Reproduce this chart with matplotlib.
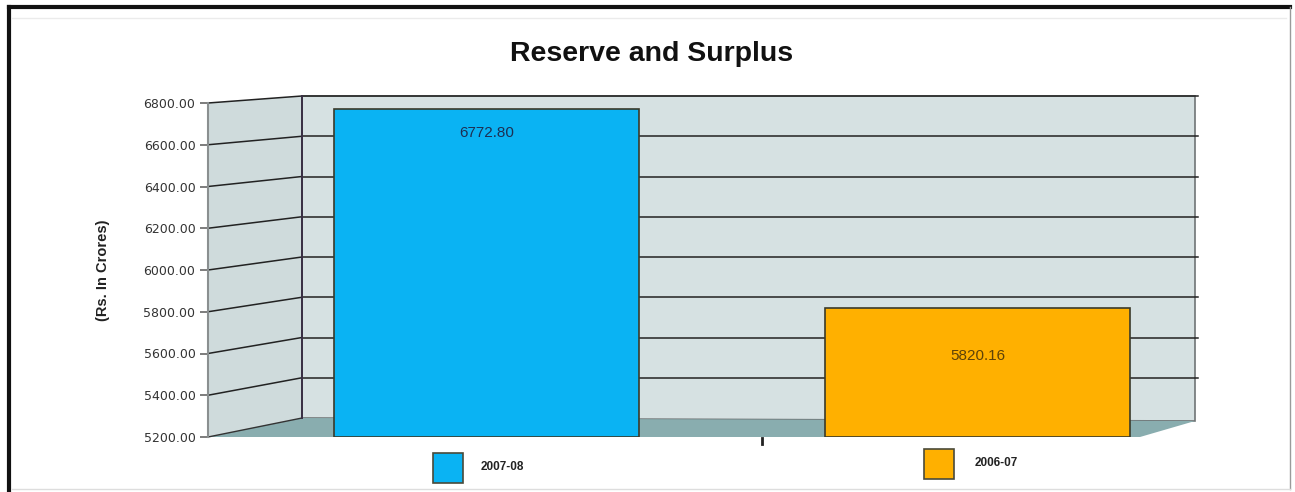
import matplotlib
matplotlib.use("Agg")
import matplotlib.pyplot as plt
from matplotlib.patches import Polygon, Rectangle
from matplotlib.lines import Line2D

# ---- data ----
categories = ["2007-08", "2006-07"]
values = [6772.80, 5820.16]
value_labels = ["6772.80", "5820.16"]
yticks = [5200, 5400, 5600, 5800, 6000, 6200, 6400, 6600, 6800]
bar_colors = ["#0ab3f3", "#ffb000"]
label_colors = ["#1d2f52", "#5e4208"]
label_offsets_pt = [-17.5, -35]

W, H = 1295, 492
fig = plt.figure(figsize=(W / 100, H / 100), dpi=100)
fig.patch.set_facecolor("white")

def P(px, py):
    return (px / W, 1 - py / H)

# front axis in pixels
AX_L, AX_R, AX_T, AX_B = 208, 1195, 103, 437
ax = fig.add_axes([AX_L / W, 1 - AX_B / H, (AX_R - AX_L) / W, (AX_B - AX_T) / H])
ax.set_facecolor("none")
ymin, ymax = 5200, 6800
ax.set_ylim(ymin, ymax)
ax.set_xlim(-0.566, 1.442)

tf = fig.transFigure
# back wall geometry (pixels)
BW_L, BW_R, BW_T, BW_B = 302, 1195, 96, 418

def yb(v):
    return BW_B - (v - ymin) / (ymax - ymin) * (BW_B - BW_T)

def yf(v):
    return AX_B - (v - ymin) / (ymax - ymin) * (AX_B - AX_T)

# side wall
side = Polygon([P(208, 103), P(BW_L, BW_T), P(BW_L, BW_B), P(208, 437)],
               closed=True, transform=tf, facecolor="#cfdbdc", edgecolor="none",
               zorder=0.5, clip_on=False)
ax.add_patch(side)
# back wall
back = Polygon([P(BW_L, BW_T), P(BW_R, BW_T), P(BW_R, 421), P(BW_L, BW_B)],
               closed=True, transform=tf, facecolor="#d6e1e2", edgecolor="#6f7475", lw=1.2,
               zorder=0.6, clip_on=False)
ax.add_patch(back)
# floor
floor = Polygon([P(208, 437), P(BW_L, BW_B), P(BW_R, 421), P(1140, 437)],
                closed=True, transform=tf, facecolor="#89adaf", edgecolor="none",
                zorder=0.7, clip_on=False)
ax.add_patch(floor)

# grid lines on back + side walls
for v in yticks[1:]:
    xs = [BW_L, BW_R + 3]
    ax.add_line(Line2D([x_ / W for x_ in xs], [1 - yb(v) / H] * 2, transform=tf,
                       color="#222222", lw=1.1, zorder=0.8, clip_on=False))
    ax.add_line(Line2D([208 / W, BW_L / W], [1 - yf(v) / H, 1 - yb(v) / H], transform=tf,
                       color="#222222", lw=1.1, zorder=0.8, clip_on=False))
# floor back edge line on side
ax.add_line(Line2D([208 / W, BW_L / W], [1 - yf(ymin) / H, 1 - yb(ymin) / H], transform=tf,
                   color="#333333", lw=1.0, zorder=0.8, clip_on=False))
# back-left corner edge
ax.add_line(Line2D([BW_L / W] * 2, [1 - BW_T / H, 1 - BW_B / H], transform=tf,
                   color="#3a2f45", lw=1.4, zorder=0.85, clip_on=False))
# small axis tick at bottom
ax.add_line(Line2D([762 / W] * 2, [1 - 438 / H, 1 - 444 / H], transform=tf,
                   color="#222222", lw=2, zorder=1, clip_on=False))

# bars
x = list(range(len(categories)))
bars = ax.bar(x, [v - ymin for v in values], bottom=ymin, width=0.62,
              color=bar_colors, edgecolor="#3a3a2a", linewidth=1.2, zorder=2)
for b, lab, c, off in zip(bars, value_labels, label_colors, label_offsets_pt):
    ax.annotate(lab, (b.get_x() + b.get_width() / 2, b.get_y() + b.get_height()),
                xytext=(0, off), textcoords="offset points", ha="center", va="center",
                fontsize=11, color=c, family="Liberation Sans", zorder=3)

# axes styling
for s in ["top", "right", "bottom"]:
    ax.spines[s].set_visible(False)
ax.spines["left"].set_color("#8a8f90")
ax.spines["left"].set_linewidth(1.5)
ax.set_xticks([])
ax.set_yticks(yticks)
ax.set_yticklabels([f"{t:.2f}" for t in yticks], fontsize=9, color="#333333")
ax.tick_params(axis="y", length=6, width=1.2, color="#666666", pad=3)
ax.set_ylabel("(Rs. In Crores)", fontsize=10.5, fontweight="bold", family="Liberation Sans",
              color="#222222", labelpad=24)

# title
fig.text(652 / W, 1 - 54 / H, "Reserve and Surplus", ha="center", va="center",
         fontsize=20.5, fontweight="bold", family="Liberation Sans", color="#111111")

# legend (manual)
leg_pos = [(433, 453, 481), (924, 449, 975)]
for (sx, sy, tx), c, lab in zip(leg_pos, bar_colors, categories):
    fig.patches.append(Rectangle(P(sx, sy + 30), 30 / W, 30 / H, transform=tf,
                                 facecolor=c, edgecolor="#4a4a3a", lw=1.2))
    fig.text(tx / W, 1 - (sy + 14) / H, lab, ha="left", va="center", fontsize=8.5,
             fontweight="bold", family="Liberation Sans", color="#222222")

# outer frame
fig.lines.append(Line2D([9 / W, 9 / W], [1 - 7 / H, 0], transform=tf, color="#111111", lw=3))
fig.lines.append(Line2D([9 / W, 1290 / W], [1 - 7 / H, 1 - 7 / H], transform=tf, color="#111111", lw=3))
fig.lines.append(Line2D([1290 / W, 1290 / W], [1 - 7 / H, 1 - 489 / H], transform=tf, color="#9a9a9a", lw=1))
fig.lines.append(Line2D([12 / W, 1290 / W], [1 - 489 / H, 1 - 489 / H], transform=tf, color="#dddddd", lw=1))
fig.lines.append(Line2D([12 / W, 1286 / W], [1 - 18 / H, 1 - 18 / H], transform=tf, color="#ebebeb", lw=1))

fig.savefig("out.png", dpi=100)
